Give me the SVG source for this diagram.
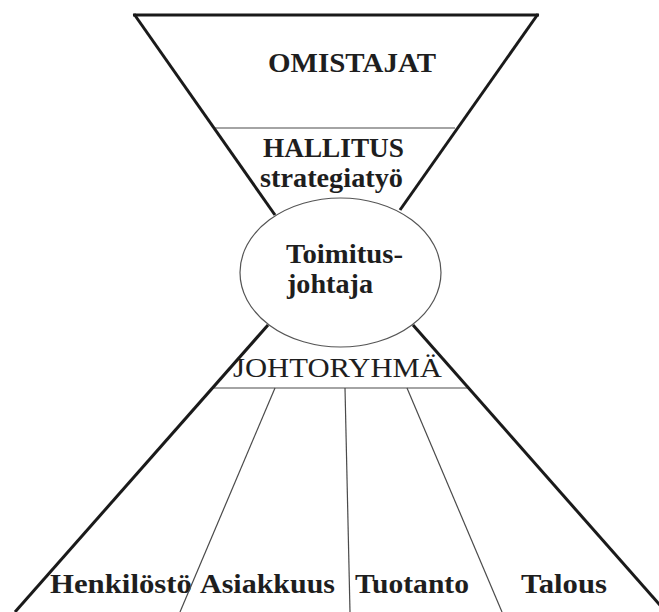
<svg xmlns="http://www.w3.org/2000/svg" width="659" height="612" viewBox="0 0 659 612">
  <style>
    .thick { stroke: #1a1a1a; stroke-width: 3; fill: none; stroke-linecap: butt; }
    .thin { stroke: #4a4a4a; stroke-width: 1.2; fill: none; }
    .lbl { font-family: "Liberation Serif", "Times New Roman", serif; font-size: 27px; font-weight: bold; fill: #1e1e1e; }
    .reg { font-weight: normal; font-size: 28px; }
  </style>
  <rect width="659" height="612" fill="#ffffff"/>

  <!-- upper funnel -->
  <g id="omistajat">
    <line class="thick" x1="133" y1="15" x2="539" y2="15"/>
    <text class="lbl" x="268" y="72" textLength="168" lengthAdjust="spacingAndGlyphs">OMISTAJAT</text>
  </g>
  <g id="hallitus">
    <line class="thin" x1="214" y1="128" x2="455" y2="128"/>
    <text class="lbl" x="263" y="157" textLength="141" lengthAdjust="spacingAndGlyphs">HALLITUS</text>
    <text class="lbl" x="260" y="187" textLength="143" lengthAdjust="spacingAndGlyphs">strategiatyö</text>
  </g>

  <!-- central node -->
  <g id="toimitusjohtaja">
    <ellipse cx="340.5" cy="272.5" rx="100.5" ry="74.5" fill="#ffffff" stroke="#555555" stroke-width="1.2"/>
    <text class="lbl" x="286" y="263" textLength="117" lengthAdjust="spacingAndGlyphs">Toimitus-</text>
    <text class="lbl" x="287" y="293" textLength="86" lengthAdjust="spacingAndGlyphs">johtaja</text>
  </g>

  <!-- lower funnel -->
  <g id="johtoryhma">
    <line class="thin" x1="213" y1="388" x2="468" y2="388"/>
    <text class="lbl reg" x="233" y="377" textLength="209" lengthAdjust="spacingAndGlyphs">JOHTORYHMÄ</text>
  </g>

  <g id="henkilosto">
    <text class="lbl" x="50" y="593" textLength="142" lengthAdjust="spacingAndGlyphs">Henkilöstö</text>
  </g>
  <g id="asiakkuus">
    <text class="lbl" x="200" y="593" textLength="135" lengthAdjust="spacingAndGlyphs">Asiakkuus</text>
  </g>
  <g id="tuotanto">
    <text class="lbl" x="355" y="593" textLength="114" lengthAdjust="spacingAndGlyphs">Tuotanto</text>
  </g>
  <g id="talous">
    <text class="lbl" x="521" y="593" textLength="86" lengthAdjust="spacingAndGlyphs">Talous</text>
  </g>

  <!-- connectors: funnel sides and division lines -->
  <g id="connectors">
    <line class="thick" x1="134" y1="14" x2="275" y2="215"/>
    <line class="thick" x1="538" y1="14" x2="400" y2="210"/>
    <line class="thick" x1="268" y1="325" x2="15" y2="612"/>
    <line class="thick" x1="413" y1="325" x2="666" y2="612"/>
    <line class="thin" x1="275" y1="388" x2="180" y2="612"/>
    <line class="thin" x1="345" y1="388" x2="350" y2="612"/>
    <line class="thin" x1="407" y1="388" x2="502" y2="612"/>
  </g>
</svg>
